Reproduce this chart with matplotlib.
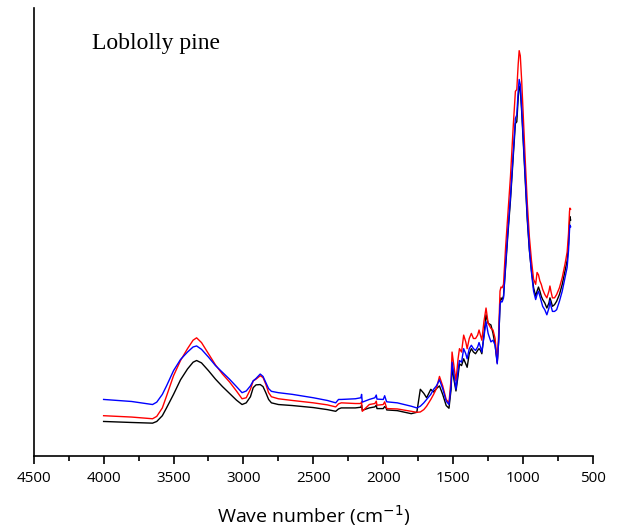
import matplotlib
matplotlib.use("Agg")
import matplotlib.pyplot as plt
from matplotlib.ticker import MultipleLocator
import numpy as np

# wavenumber grid (cm-1) and absorbance (a.u. x1000)
wn = [4000, 3800, 3650, 3620, 3580, 3550, 3500, 3450, 3400, 3360, 3335, 3300,
      3250, 3200, 3150, 3100, 3050, 3010, 2980, 2950, 2930, 2910, 2880, 2860,
      2840, 2820, 2800, 2750, 2650, 2500, 2400, 2340, 2320, 2300, 2200, 2160,
      2155, 2150, 2100, 2060, 2050, 2045, 2000, 1990, 1980, 1975, 1900,
      1800, 1760, 1735, 1710, 1690, 1660,
      1640, 1620, 1598, 1575, 1550, 1530, 1515, 1508, 1495, 1480, 1465, 1455,
      1440, 1425, 1410, 1400, 1385, 1370, 1355, 1340, 1325, 1315, 1305, 1295,
      1280, 1265, 1250, 1230, 1215, 1200, 1185, 1175, 1165, 1158, 1150, 1140,
      1125, 1110, 1090, 1070, 1055, 1045, 1035, 1028, 1020, 1010, 1000, 985,
      970, 955, 940, 925, 910, 900, 890, 880, 870, 860, 845, 830, 815, 808,
      800, 790, 775, 760, 740, 720, 700, 685, 675, 668, 665, 660]

black = [102, 99, 97, 102, 119, 142, 182, 225, 257, 277, 282, 275,
         252, 227, 205, 185, 165, 152, 157, 175, 202, 210, 211, 205,
         187, 167, 157, 152, 149, 143, 137, 132, 139, 142, 142, 144,
         150, 135, 142, 145, 150, 140, 140, 146, 142, 136, 134,
         125, 129, 197, 185, 172, 197,
         189, 199, 207, 182, 149, 141, 197, 262, 227, 192, 237, 272,
         267, 287, 272, 262, 302, 317, 307, 302, 312, 317, 312, 302,
         357, 417, 392, 387, 362, 327, 277, 337, 447, 467, 462, 472,
         557, 647, 757, 887, 982, 987, 1057, 1092, 1082, 1017, 937, 817,
         697, 607, 547, 497, 472, 487, 499, 487, 472, 462, 452, 437, 452, 467,
         457, 442, 447, 457, 477, 507, 547, 577, 627, 687, 707, 697]

red = [119, 115, 110, 117, 142, 177, 237, 282, 317, 342, 349, 335,
       302, 269, 242, 219, 192, 169, 172, 197, 222, 227, 237, 232,
       212, 187, 175, 169, 164, 157, 151, 145, 154, 157, 155, 155,
       160, 132, 152, 155, 162, 150, 152, 160, 147, 140, 139,
       132, 129, 130, 137, 147, 167,
       182, 199, 235, 207, 167, 157, 227, 307, 267, 222, 287, 317,
       307, 357, 337, 317, 347, 362, 347, 347, 357, 372, 357, 342,
       397, 437, 392, 377, 372, 347, 275, 357, 487, 499, 497, 507,
       617, 707, 827, 977, 1077, 1082, 1157, 1197, 1182, 1107, 1017, 877,
       747, 647, 577, 522, 507, 542, 535, 517, 507, 492, 477, 467, 487, 502,
       485, 467, 467, 477, 497, 527, 567, 602, 657, 722, 732, 729]

blue = [167, 161, 152, 159, 182, 207, 252, 285, 307, 322, 325, 315,
        292, 267, 247, 227, 205, 187, 192, 207, 222, 229, 242, 235,
        217, 199, 191, 187, 182, 172, 164, 157, 167, 167, 169, 172,
        182, 159, 167, 172, 180, 168, 167, 178, 165, 160, 157,
        147, 142, 147, 157, 167, 182,
        197, 207, 225, 199, 162, 152, 207, 277, 242, 197, 252, 282,
        277, 317, 302, 287, 317, 327, 317, 312, 322, 335, 322, 307,
        352, 397, 362, 337, 342, 327, 272, 337, 447, 457, 455, 467,
        567, 657, 767, 897, 997, 1007, 1077, 1112, 1097, 1027, 947, 827,
        707, 612, 542, 487, 462, 477, 487, 472, 457, 442, 432, 417, 437, 459,
        442, 427, 427, 432, 457, 487, 527, 557, 607, 667, 682, 677]

assert len(wn) == len(black) == len(red) == len(blue), (len(wn), len(black), len(red), len(blue))

label_x = "Wave number (cm$^{-1}$)"
title_text = "Loblolly pine"

fig = plt.figure(figsize=(6.21, 5.31), dpi=100)
ax = fig.add_axes([33.7 / 621, 1 - 456 / 531, 559.3 / 621, 448 / 531])

scale = 1000.0
ax.plot(wn, np.array(black) / scale, color="black", lw=1.0)
ax.plot(wn, np.array(red) / scale, color="red", lw=1.0)
ax.plot(wn, np.array(blue) / scale, color="blue", lw=1.0)

ax.set_xlim(4500, 500)
ax.set_ylim(0, 1.323)

ax.spines["top"].set_visible(False)
ax.spines["right"].set_visible(False)
ax.spines["left"].set_linewidth(1.2)
ax.spines["bottom"].set_linewidth(1.2)
ax.set_yticks([])

ax.xaxis.set_major_locator(MultipleLocator(500))
ax.xaxis.set_minor_locator(MultipleLocator(250))
ax.tick_params(axis="x", which="major", direction="out", length=6, width=1.2,
               labelsize=11, pad=5)
ax.tick_params(axis="x", which="minor", direction="out", length=3.5, width=1.2)
for lab in ax.get_xticklabels():
    lab.set_family("Open Sans")

ax.set_xlabel(label_x, fontsize=14, family="Open Sans", labelpad=12)

ax.text(0.104, 0.92, title_text, transform=ax.transAxes,
        family="Liberation Serif", fontsize=17, va="center", ha="left")

fig.savefig("out.png", dpi=100)
